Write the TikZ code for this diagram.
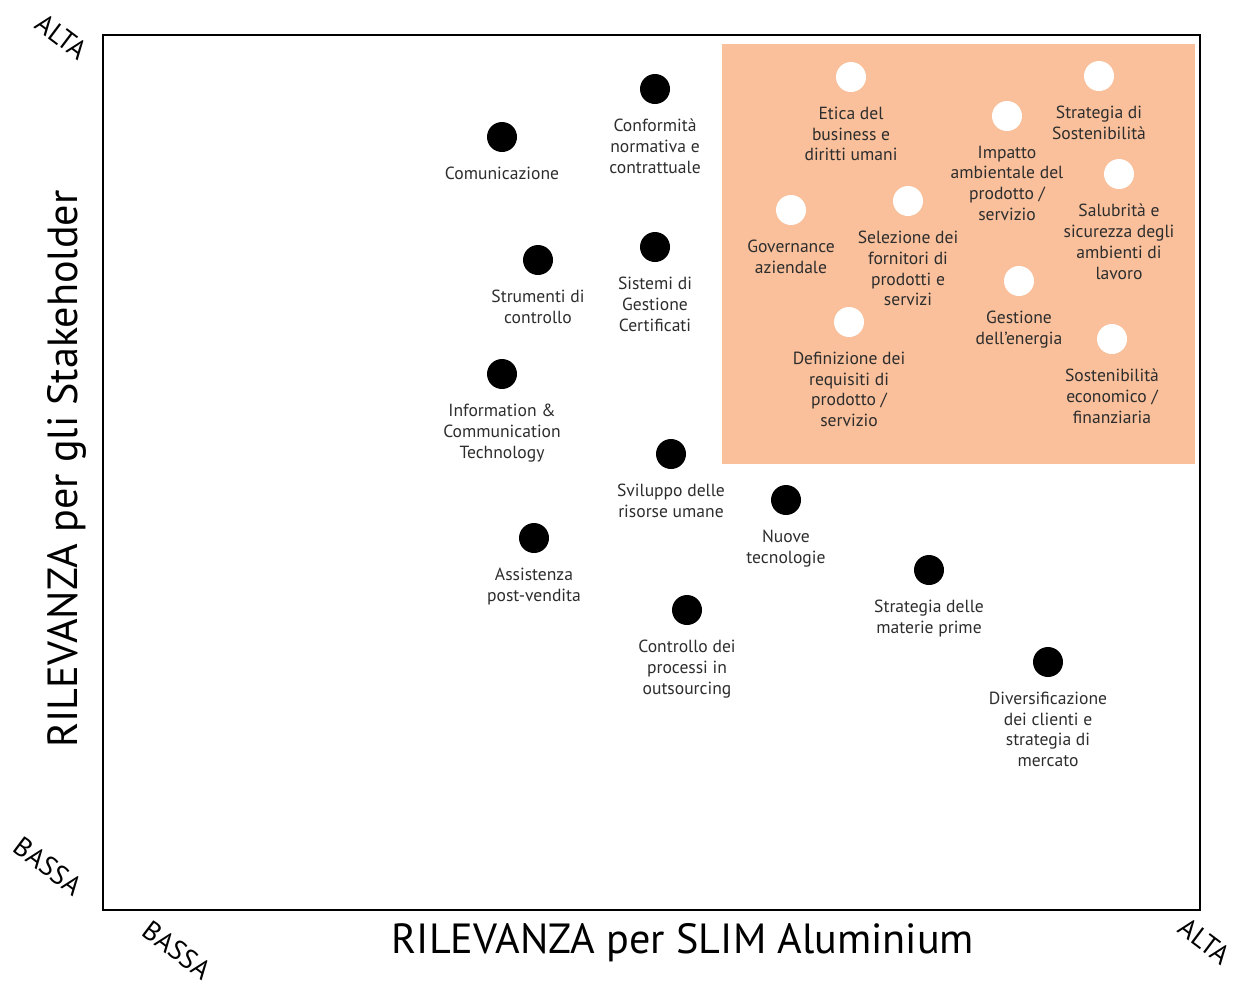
\documentclass[tikz,border=0pt]{standalone}
\usepackage{fontspec}
\setmainfont{PT Sans}
\usepackage{tikz}
\usetikzlibrary{positioning}

\definecolor{peach}{RGB}{249,192,155}
\definecolor{txtgray}{RGB}{45,45,45}

\tikzset{
  blk/.style={circle,fill=black,inner sep=0pt,minimum size=0.6cm},
  wht/.style={circle,fill=white,inner sep=0pt,minimum size=0.6cm},
  lbl/.style={align=center,inner sep=0pt,text=txtgray,
    font=\fontsize{10}{11.9}\selectfont},
  corner/.style={inner sep=0pt,font=\fontsize{15.5}{15.5}\selectfont},
  axtitle/.style={font=\fontsize{24}{24}\selectfont}
}

\begin{document}
\begin{tikzpicture}[x=0.02cm,y=-0.02cm,node distance=0.28cm]
    \useasboundingbox (0,0) rectangle (1243,985);

    % high relevance area
    \fill[peach] (722,44) rectangle (1195,464);

    % frame
    \draw[line width=1.1pt] (103,35) rectangle (1200,910);

    % axis titles
    \node[axtitle] (xtitle) at (683,943) {RILEVANZA per SLIM Aluminium};
    \node[axtitle,rotate=90] (ytitle) at (67,469) {RILEVANZA per gli Stakeholder};

    % corner labels
    \node[corner,rotate=-37] (ytop) at (62,37) {ALTA};
    \node[corner,rotate=-37] (ybot) at (48,866) {BASSA};
    \node[corner,rotate=-37] (xlow) at (177,950) {BASSA};
    \node[corner,rotate=-37] (xhigh) at (1205,941) {ALTA};

    % black dots
    \node[blk] (com) at (502,137) {};
    \node[lbl,below=of com] {Comunicazione};
    \node[blk] (conf) at (655,89) {};
    \node[lbl,below=of conf] {Conformità\\normativa e\\contrattuale};
    \node[blk] (strum) at (538,260) {};
    \node[lbl,below=of strum] {Strumenti di\\controllo};
    \node[blk] (sist) at (655,247) {};
    \node[lbl,below=of sist] {Sistemi di\\Gestione\\Certificati};
    \node[blk] (ict) at (502,374) {};
    \node[lbl,below=of ict] {Information \&\\Communication\\Technology};
    \node[blk] (svil) at (671,454) {};
    \node[lbl,below=of svil] {Sviluppo delle\\risorse umane};
    \node[blk] (nuove) at (786,500) {};
    \node[lbl,below=of nuove] {Nuove\\tecnologie};
    \node[blk] (assist) at (534,538) {};
    \node[lbl,below=of assist] {Assistenza\\post-vendita};
    \node[blk] (outs) at (687,610) {};
    \node[lbl,below=of outs] {Controllo dei\\processi in\\outsourcing};
    \node[blk] (mater) at (929,570) {};
    \node[lbl,below=of mater] {Strategia delle\\materie prime};
    \node[blk] (diver) at (1048,662) {};
    \node[lbl,below=of diver] {Diversificazione\\dei clienti e\\strategia di\\mercato};

    % white dots
    \node[wht] (etica) at (851,77) {};
    \node[lbl,below=of etica] {Etica del\\business e\\diritti umani};
    \node[wht] (strat) at (1099,76) {};
    \node[lbl,below=of strat] {Strategia di\\Sostenibilità};
    \node[wht] (impat) at (1007,116) {};
    \node[lbl,below=of impat] {Impatto\\ambientale del\\prodotto /\\servizio};
    \node[wht] (salub) at (1119,174) {};
    \node[lbl,below=of salub] {Salubrità e\\sicurezza degli\\ambienti di\\lavoro};
    \node[wht] (gov) at (791,210) {};
    \node[lbl,below=of gov] {Governance\\aziendale};
    \node[wht] (selez) at (908,201) {};
    \node[lbl,below=of selez] {Selezione dei\\fornitori di\\prodotti e\\servizi};
    \node[wht] (energ) at (1019,281) {};
    \node[lbl,below=of energ] {Gestione\\dell’energia};
    \node[wht] (defin) at (849,322) {};
    \node[lbl,below=of defin] {Definizione dei\\requisiti di\\prodotto /\\servizio};
    \node[wht] (econ) at (1112,339) {};
    \node[lbl,below=of econ] {Sostenibilità\\economico /\\finanziaria};
\end{tikzpicture}
\end{document}
